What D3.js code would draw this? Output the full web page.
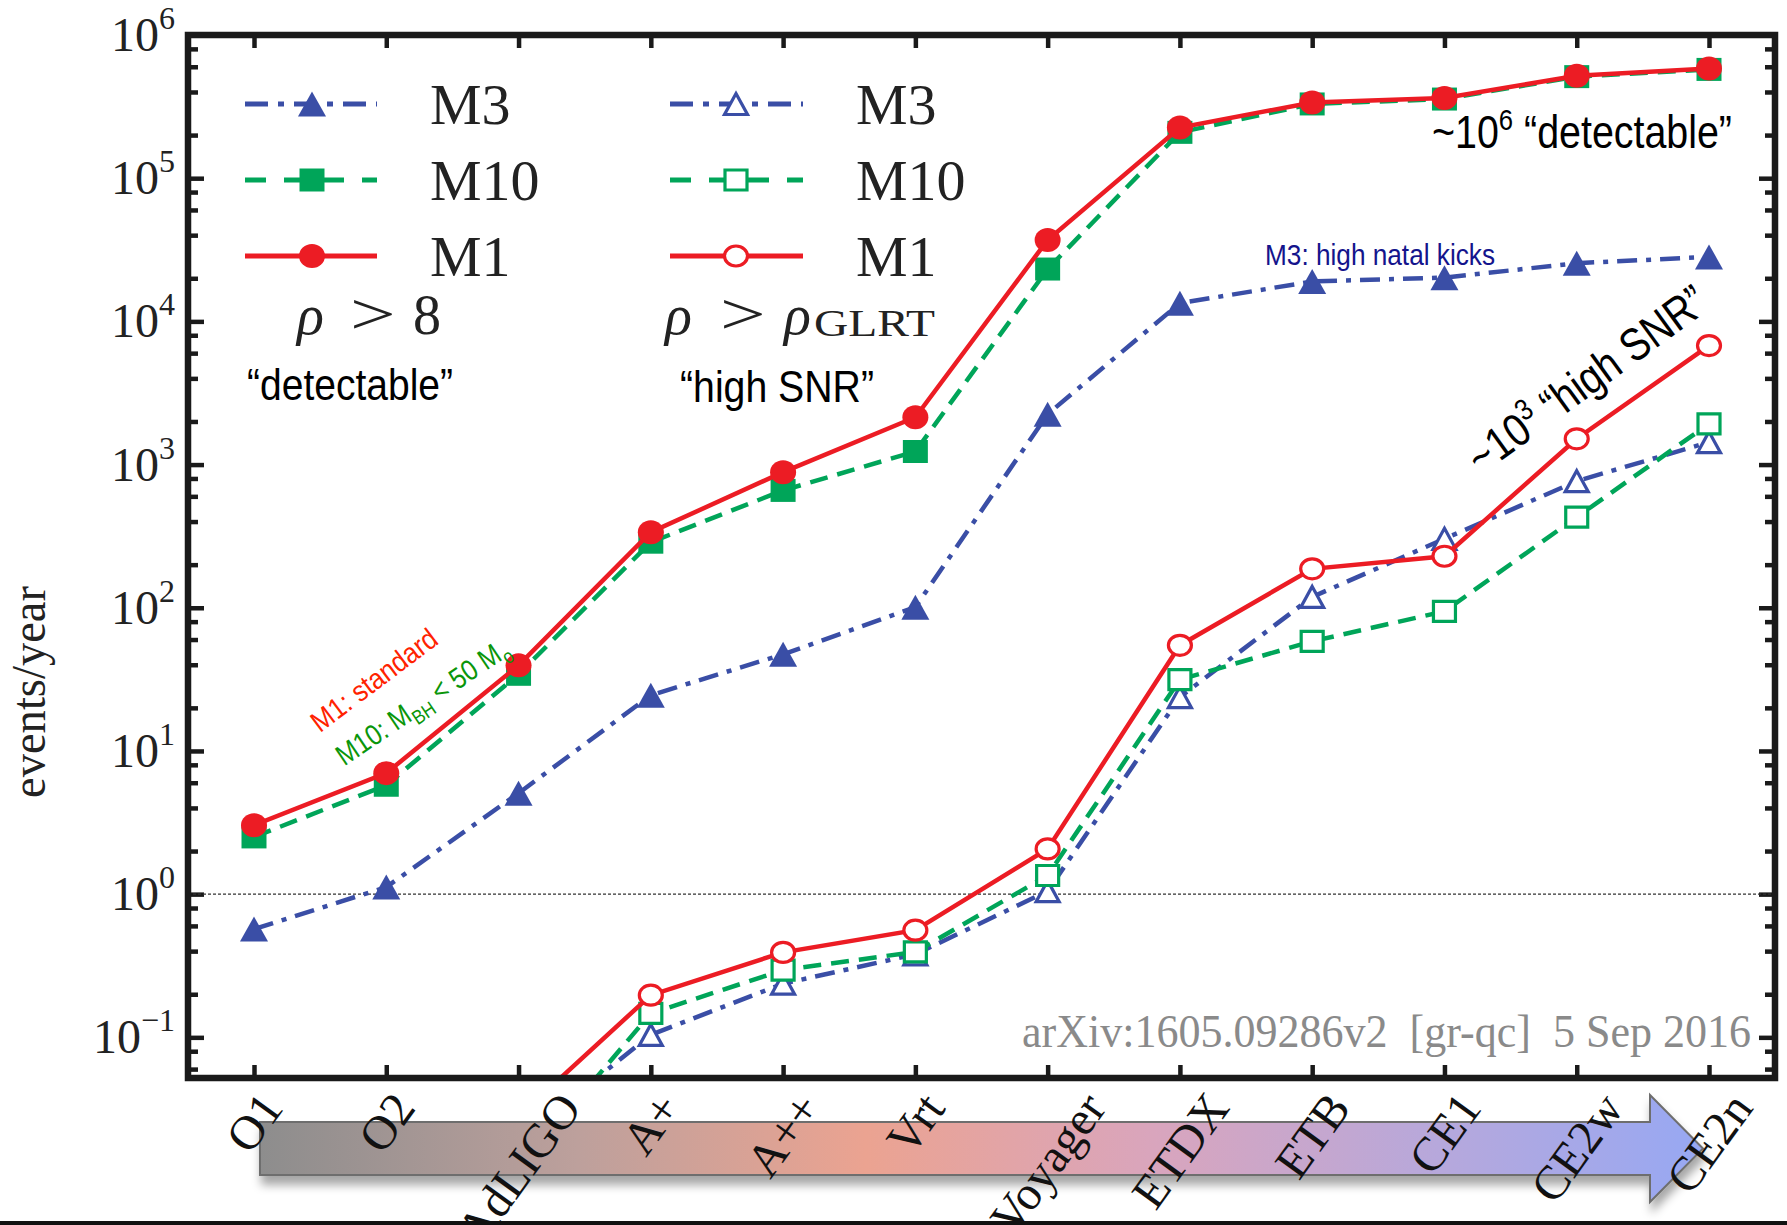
<!DOCTYPE html>
<html><head><meta charset="utf-8">
<script src="https://cdn.jsdelivr.net/npm/d3@7"></script>
<style>body{margin:0;background:#fff;} svg{display:block;}</style>
</head><body>
<svg id="chart" width="1787" height="1225"></svg>
<script>
// ---------------- data ----------------
const categories = ["O1","O2","AdLIGO","A+","A++","Vrt","Voyager","ETDX","ETB","CE1","CE2w","CE2n"];
// rho > 8 ("detectable")
const m1Detectable  = [3.03, 7.0, 39.6, 337, 885, 2140, 37000, 226000, 338000, 363000, 519000, 583000];
const m10Detectable = [2.51, 5.76, 34.3, 287, 660, 1234, 23200, 209000, 330000, 357000, 512000, 575000];
const m3Detectable  = [0.57, 1.12, 5.07, 24.5, 47.3, 101, 2250, 13400, 19000, 20200, 25500, 28200];
// rho > rho_GLRT ("high SNR")
const m1HighSNR  = [null, null, 0.028, 0.197, 0.392, 0.56, 2.07, 54.7, 187, 229, 1514, 6780];
const m10HighSNR = [null, null, 0.012, 0.147, 0.295, 0.395, 1.35, 31.5, 58.3, 94.4, 430, 1927];
const m3HighSNR  = [null, null, 0.019, 0.104, 0.237, 0.38, 1.05, 23.8, 119, 303, 766, 1433];
const yTickExponents = [-1, 0, 1, 2, 3, 4, 5, 6];
const minorMultipliers = [2, 4, 6, 8];
const yDomain = [0.052, 1e6];

// ---------------- styles ----------------
const RED = "#ec1c24", GREEN = "#00a559", BLUE = "#3a4ea6";
const SERIF = "'Liberation Serif', 'DejaVu Serif', serif";
const NARROW = "'Liberation Sans Narrow', 'Liberation Sans', Arial, sans-serif";

const svg = d3.select("#chart");
const L = 188, R = 1775, T = 35, B = 1078;

const x = d3.scalePoint().domain(categories).range([254, 1709]);
const y = d3.scaleLog().domain(yDomain).range([B, T]);

const defs = svg.append("defs");
defs.append("clipPath").attr("id", "plotclip").append("rect")
  .attr("x", L).attr("y", T).attr("width", R - L).attr("height", B - T);
const grad = defs.append("linearGradient").attr("id", "arrowgrad").attr("x1", "0").attr("x2", "1").attr("y1", "0").attr("y2", "0");
[["0", "#8d8d8d"], ["0.22", "#bda09c"], ["0.42", "#eba391"], ["0.62", "#d9a5bd"], ["0.82", "#b6a8dc"], ["1", "#97a8f3"]]
  .forEach(([o, c]) => grad.append("stop").attr("offset", o).attr("stop-color", c));
const shadow = defs.append("filter").attr("id", "shadow").attr("x", "-5%").attr("y", "-30%").attr("width", "110%").attr("height", "180%");
shadow.append("feDropShadow").attr("dx", 2).attr("dy", 9).attr("stdDeviation", 5).attr("flood-color", "#000").attr("flood-opacity", 0.35);

// ---------------- arrow (behind labels) ----------------
const arrowG = svg.append("g");
const ax0 = 260, ax1 = 1650, axTip = 1703, bodyT = 1122, bodyB = 1175, headT = 1095, headB = 1202;
arrowG.append("path")
  .attr("d", `M${ax0},${bodyT}L${ax1},${bodyT}L${ax1},${headT}L${axTip},${(bodyT + bodyB) / 2}L${ax1},${headB}L${ax1},${bodyB}L${ax0},${bodyB}Z`)
  .attr("fill", "url(#arrowgrad)").attr("stroke", "#6e6e6e").attr("stroke-width", 2)
  .attr("filter", "url(#shadow)");

// ---------------- axes / ticks ----------------
const majorVals = yTickExponents.map(e => Math.pow(10, e));
const minorVals = [];
for (let e = -2; e <= 5; e++) minorMultipliers.forEach(m => {
  const v = m * Math.pow(10, e);
  if (v >= yDomain[0] && v <= yDomain[1]) minorVals.push(v);
});
function styleAxis(g) {
  g.select(".domain").remove();
  g.selectAll(".tick line").attr("stroke", "#1a1a1a").attr("stroke-width", 4.5);
  g.selectAll(".tick text").remove();
}
svg.append("g").attr("transform", `translate(${L},0)`).call(d3.axisLeft(y).tickValues(majorVals).tickSize(-16).tickFormat("")).call(styleAxis);
svg.append("g").attr("transform", `translate(${L},0)`).call(d3.axisLeft(y).tickValues(minorVals).tickSize(-10).tickFormat("")).call(styleAxis);
svg.append("g").attr("transform", `translate(${R},0)`).call(d3.axisRight(y).tickValues(majorVals).tickSize(-16).tickFormat("")).call(styleAxis);
svg.append("g").attr("transform", `translate(${R},0)`).call(d3.axisRight(y).tickValues(minorVals).tickSize(-10).tickFormat("")).call(styleAxis);
svg.append("g").attr("transform", `translate(0,${T})`).call(d3.axisTop(x).tickSize(-13).tickFormat("")).call(styleAxis);
svg.append("g").attr("transform", `translate(0,${B})`).call(d3.axisBottom(x).tickSize(-13).tickFormat("")).call(styleAxis);

// y tick labels 10^k
majorVals.forEach((v, i) => {
  const e = yTickExponents[i];
  const t = svg.append("text").attr("x", 175).attr("y", y(v) + 16)
    .attr("text-anchor", "end").attr("font-family", SERIF).attr("font-size", 48).attr("fill", "#222");
  t.append("tspan").text("10");
  t.append("tspan").attr("dy", -22).attr("font-size", 32).text(e < 0 ? "\u2212" + Math.abs(e) : String(e));
});

// y axis title
svg.append("text").attr("transform", `translate(45,${692}) rotate(-90)`)
  .attr("text-anchor", "middle").attr("font-family", SERIF).attr("font-size", 48)
  .attr("textLength", 212).attr("lengthAdjust", "spacingAndGlyphs").attr("fill", "#222").text("events/year");

// x tick labels, rotated, bbox centred on tick, top aligned
const xlabG = svg.append("g");
categories.forEach(c => {
  const outer = xlabG.append("g");
  const t = outer.append("text").attr("transform", "rotate(-54)")
    .attr("font-family", SERIF).attr("font-size", 48).attr("fill", "#111").text(c);
  const bb = t.node().getBoundingClientRect();
  outer.attr("transform", `translate(${x(c) - (bb.left + bb.width / 2)},${1083 - bb.top})`);
});

// ---------------- plot ----------------
const plot = svg.append("g").attr("clip-path", "url(#plotclip)");
plot.append("line").attr("x1", L).attr("x2", R).attr("y1", y(1)).attr("y2", y(1))
  .attr("stroke", "#333").attr("stroke-width", 1.2).attr("stroke-dasharray", "3,2");

const markerPath = {
  circle: (rx, ry) => `M${-rx},0A${rx},${ry} 0 1,0 ${rx},0A${rx},${ry} 0 1,0 ${-rx},0Z`,
  square: (w, h) => `M${-w / 2},${-h / 2}H${w / 2}V${h / 2}H${-w / 2}Z`,
  triangle: (w, h) => `M0,${-h / 2}L${w / 2},${h / 2}L${-w / 2},${h / 2}Z`
};
const series = [
  { vals: m3HighSNR, color: BLUE, dash: "20,9,5,9", shape: "triangle", open: true },
  { vals: m10HighSNR, color: GREEN, dash: "18,10", shape: "square", open: true },
  { vals: m1HighSNR, color: RED, dash: null, shape: "circle", open: true },
  { vals: m3Detectable, color: BLUE, dash: "20,9,5,9", shape: "triangle", open: false },
  { vals: m10Detectable, color: GREEN, dash: "18,10", shape: "square", open: false },
  { vals: m1Detectable, color: RED, dash: null, shape: "circle", open: false }
];
function markerD(shape, open) {
  if (shape === "circle") return open ? markerPath.circle(11.5, 10) : markerPath.circle(13, 12);
  if (shape === "square") return open ? markerPath.square(22, 20) : markerPath.square(25, 23);
  return open ? markerPath.triangle(23, 21) : markerPath.triangle(28, 25);
}
const line = d3.line().defined(d => d.v != null).x(d => x(d.c)).y(d => y(d.v));
series.forEach(s => {
  const pts = categories.map((c, i) => ({ c, v: s.vals[i] }));
  plot.append("path").datum(pts).attr("d", line).attr("fill", "none")
    .attr("stroke", s.color).attr("stroke-width", 4.5).attr("stroke-dasharray", s.dash);
  plot.selectAll(null).data(pts.filter(d => d.v != null)).enter().append("path")
    .attr("transform", d => `translate(${x(d.c)},${y(d.v)})`)
    .attr("d", markerD(s.shape, s.open))
    .attr("fill", s.open ? "#fff" : s.color)
    .attr("stroke", s.open ? s.color : "none").attr("stroke-width", 3.2);
});

// frame
svg.append("rect").attr("x", L).attr("y", T).attr("width", R - L).attr("height", B - T)
  .attr("fill", "none").attr("stroke", "#1a1a1a").attr("stroke-width", 6.5);

// ---------------- legend ----------------
const legendRows = [
  { label: "M3", color: BLUE, dash: "23,10,6,10", shape: "triangle", y: 104 },
  { label: "M10", color: GREEN, dash: "21,18", shape: "square", y: 180 },
  { label: "M1", color: RED, dash: null, shape: "circle", y: 256 }
];
const legendCols = [{ x0: 245, x1: 377, mx: 312, tx: 430, open: false }, { x0: 670, x1: 803, mx: 736, tx: 856, open: true }];
legendCols.forEach(col => {
  legendRows.forEach(r => {
    svg.append("line").attr("x1", col.x0).attr("x2", col.x1).attr("y1", r.y).attr("y2", r.y)
      .attr("stroke", r.color).attr("stroke-width", 5).attr("stroke-dasharray", r.dash);
    svg.append("path").attr("transform", `translate(${col.mx},${r.y})`).attr("d", markerD(r.shape, col.open))
      .attr("fill", col.open ? "#fff" : r.color).attr("stroke", col.open ? r.color : "none").attr("stroke-width", 3.2);
    svg.append("text").attr("x", col.tx).attr("y", r.y + 20).attr("font-family", SERIF)
      .attr("font-size", 58).attr("fill", "#222").text(r.label);
  });
});
// rho > 8
const rhoY = 334;
function mathText(xp, txt, italic, size, sx) {
  const t = svg.append("text").attr("font-family", SERIF)
    .attr("font-size", size || 56).attr("font-style", italic ? "italic" : "normal").attr("fill", "#222").text(txt);
  t.attr("transform", `translate(${xp},${rhoY}) scale(${sx || 1},1)`);
  return t;
}
mathText(297, "\u03c1", true); mathText(350, ">", false, 60, 1.35); mathText(413, "8", false);
mathText(665, "\u03c1", true); mathText(720, ">", false, 60, 1.35); mathText(784, "\u03c1", true);
svg.append("text").attr("x", 814).attr("y", rhoY + 2).attr("font-family", SERIF).attr("font-size", 38)
  .attr("textLength", 121).attr("lengthAdjust", "spacingAndGlyphs").attr("fill", "#222").text("GLRT");

// ---------------- annotations ----------------
function note(xp, yp, size, color, len, build, rot) {
  const t = svg.append("text").attr("font-family", NARROW).attr("font-size", size).attr("fill", color)
    .attr("textLength", len).attr("lengthAdjust", "spacingAndGlyphs");
  if (rot != null) t.attr("transform", `translate(${xp},${yp}) rotate(${rot})`).attr("text-anchor", "middle");
  else t.attr("x", xp).attr("y", yp);
  build(t);
  return t;
}
note(247, 400, 44, "#000", 206, t => t.text("\u201cdetectable\u201d"));
note(680, 402, 44, "#000", 194, t => t.text("\u201chigh SNR\u201d"));
note(1432, 148, 46, "#000", 300, t => {
  t.append("tspan").text("~10");
  t.append("tspan").attr("dy", -18).attr("font-size", 30).text("6");
  t.append("tspan").attr("dy", 18).text(" \u201cdetectable\u201d");
});
note(1265, 265, 29, "#14148c", 230, t => t.text("M3: high natal kicks"));
note(1596, 392, 46, "#000", 284, t => {
  t.append("tspan").text("~10");
  t.append("tspan").attr("dy", -18).attr("font-size", 30).text("3");
  t.append("tspan").attr("dy", 18).text(" \u201chigh SNR\u201d");
}, -36);
note(380, 688, 29, "#ff2200", 150, t => t.text("M1: standard"), -37);
note(428, 710, 29, "#0a960a", 202, t => {
  t.append("tspan").text("M10: M");
  t.append("tspan").attr("dy", 7).attr("font-size", 20).text("BH");
  t.append("tspan").attr("dy", -7).text(" < 50 M");
  t.append("tspan").attr("dy", 7).attr("font-size", 20).text("o");
}, -34);

// arXiv stamp
svg.append("text").attr("x", 1022).attr("y", 1047).attr("font-family", SERIF).attr("font-size", 46)
  .attr("textLength", 729).attr("lengthAdjust", "spacingAndGlyphs").attr("fill", "#8a8a8a")
  .attr("xml:space", "preserve").text("arXiv:1605.09286v2  [gr-qc]  5 Sep 2016");

// bottom border line
svg.append("rect").attr("x", 0).attr("y", 1221).attr("width", 1787).attr("height", 4).attr("fill", "#111");
</script>
</body></html>
